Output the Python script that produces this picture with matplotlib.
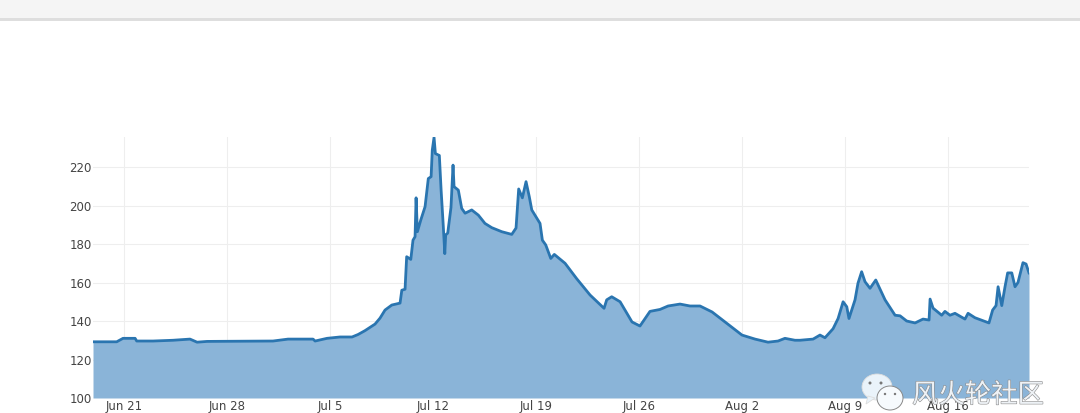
import numpy as np
import pandas as pd
import matplotlib
matplotlib.use("Agg")
import matplotlib.pyplot as plt
import matplotlib.patheffects as pe
from matplotlib.patches import Ellipse, Rectangle, Polygon

plt.rcParams['font.family'] = ['DejaVu Sans']

# days counted from Jun 21 and the value
days = [-2.11, -0.50, -0.07, 0.75, 0.86, 1.97, 3.33, 4.48, 4.96, 5.64, 10.12, 11.14, 12.84, 12.98, 13.79,
        14.67, 15.49, 15.90, 16.37, 17.05, 17.39, 17.73, 18.19, 18.75, 18.87, 19.09, 19.20, 19.48, 19.63,
        19.77, 19.84, 19.93, 20.16, 20.45, 20.67, 20.86, 20.94, 21.06, 21.15, 21.42, 21.54, 21.69, 21.79,
        21.85, 21.99, 22.21, 22.35, 22.42, 22.71, 22.94, 23.17, 23.62, 24.07, 24.52, 24.98, 25.66, 26.34,
        26.63, 26.81, 27.06, 27.31, 27.53, 27.70, 28.26, 28.42, 28.65, 28.99, 29.23, 29.96, 30.75, 31.66,
        32.61, 32.79, 33.13, 33.70, 34.51, 35.05, 35.73, 36.41, 36.96, 37.77, 38.45, 39.13, 39.95, 40.83,
        41.98, 42.87, 43.75, 44.43, 44.90, 45.58, 45.92, 46.81, 47.28, 47.62, 48.17, 48.51, 48.85, 49.10,
        49.25, 49.66, 49.86, 50.11, 50.34, 50.68, 51.07, 51.70, 52.38, 52.72, 53.17, 53.74, 54.28, 54.69,
        54.76, 54.96, 55.55, 55.77, 56.11, 56.45, 57.13, 57.34, 57.81, 58.76, 59.01, 59.24, 59.38, 59.63,
        59.85, 60.03, 60.31, 60.53, 60.73, 61.07, 61.28, 61.48]
values = [129.2, 129.2, 131, 131, 129.6, 129.6, 130, 130.6, 129, 129.4, 129.6, 130.6, 130.6, 129.6, 131,
          131.7, 131.7, 133, 135, 138.4, 141.5, 145.7, 148.3, 149.3, 156, 156.5, 173.4, 172, 182,
          183.8, 204, 186.4, 192.5, 199.4, 214, 215, 228.8, 235.4, 227, 226, 208, 189, 175,
          184.7, 185.7, 199, 221, 209.8, 208, 198.5, 196, 197.7, 195, 190.7, 188.5, 186.4, 185,
          188.3, 208.6, 204, 212.4, 204.6, 197.7, 190.7, 182, 179.5, 172.5, 174.6, 170, 162, 153.5,
          146.6, 151, 152.6, 150, 139.5, 137.4, 145, 146, 147.8, 148.8, 147.8, 147.8, 144.7, 139.5,
          132.7, 130.6, 129, 129.6, 131, 130, 130, 130.6, 132.7, 131.3, 136, 141.3, 150, 147.4,
          141.3, 151, 159.6, 165.6, 160.4, 157, 161.3, 151, 143, 142.7, 140, 139, 141, 140.5,
          151.4, 146.7, 143, 145, 143, 144, 141, 144, 141.7, 139, 145.7, 148, 157.8, 148,
          157.8, 165, 165, 157.8, 160, 170.3, 169.6, 165]

tick_dates = ["2015-06-21", "2015-06-28", "2015-07-05", "2015-07-12", "2015-07-19",
              "2015-07-26", "2015-08-02", "2015-08-09", "2015-08-16"]
tick_labels = ["Jun 21", "Jun 28", "Jul 5", "Jul 12", "Jul 19", "Jul 26", "Aug 2", "Aug 9", "Aug 16"]
y_ticks = [100, 120, 140, 160, 180, 200, 220]

W, H = 1080, 413
start = pd.Timestamp("2015-06-21")
dates = start + pd.to_timedelta(days, unit="D")

fig = plt.figure(figsize=(W / 100, H / 100), dpi=100, facecolor="white")

# browser bar along the top edge
fig.patches.append(Rectangle((0, 1 - 19 / H), 1, 19 / H, transform=fig.transFigure, fc="#f5f5f5", ec="none"))
fig.patches.append(Rectangle((0, 1 - 20.5 / H), 1, 2 / H, transform=fig.transFigure, fc="#dedede", ec="none"))

ax = fig.add_axes([93 / W, 1 - 398 / H, (1029 - 93) / W, (398 - 137) / H])
ax.fill_between(dates, values, 100, color="#8ab4d8", lw=0, zorder=2)
ax.plot(dates, values, color="#2a75b0", lw=2, zorder=3, solid_joinstyle="round")

ax.set_xlim(dates[0], dates[-1])
ax.set_ylim(100, 235.6)
ax.set_xticks(pd.to_datetime(tick_dates))
ax.set_xticklabels(tick_labels)
ax.set_yticks(y_ticks)
ax.grid(True, color="#eeeeee", lw=0.8, zorder=1)
ax.set_axisbelow(True)
for s in ax.spines.values():
    s.set_visible(False)
ax.tick_params(length=0, labelsize=8.5, labelcolor="#444444")
ax.tick_params(axis="x", pad=1.5)
ax.tick_params(axis="y", pad=1)

# watermark
wm = fig.add_axes([0, 0, 1, 1], facecolor="none")
wm.set_xlim(0, W)
wm.set_ylim(H, 0)
wm.axis("off")
wm.add_patch(Ellipse((877, 387), 30, 26, fc="#eaf3fa", ec="#dddddd", lw=0.6, zorder=5))
wm.add_patch(Polygon([[868, 396], [866, 404], [875, 398]], fc="#eaf3fa", ec="#dddddd", lw=0.6, zorder=5))
wm.add_patch(Ellipse((890, 398), 26, 24, fc="#f6fafd", ec="#888888", lw=0.7, zorder=6))
for x, y, r in [(870, 383, 2), (881, 383, 2), (885, 394, 1.6), (895, 394, 1.6)]:
    wm.add_patch(Ellipse((x, y), r * 1.5, r * 1.5, fc="#777777", ec="none", zorder=7))
wm.text(912, 395, "风火轮社区", family=["Noto Sans CJK SC", "DejaVu Sans"], fontsize=19, color="#eef2f6",
        va="center", ha="left", zorder=8,
        path_effects=[pe.withStroke(linewidth=0.8, foreground="#8a8a8a")])

fig.savefig("out.png", dpi=100)
